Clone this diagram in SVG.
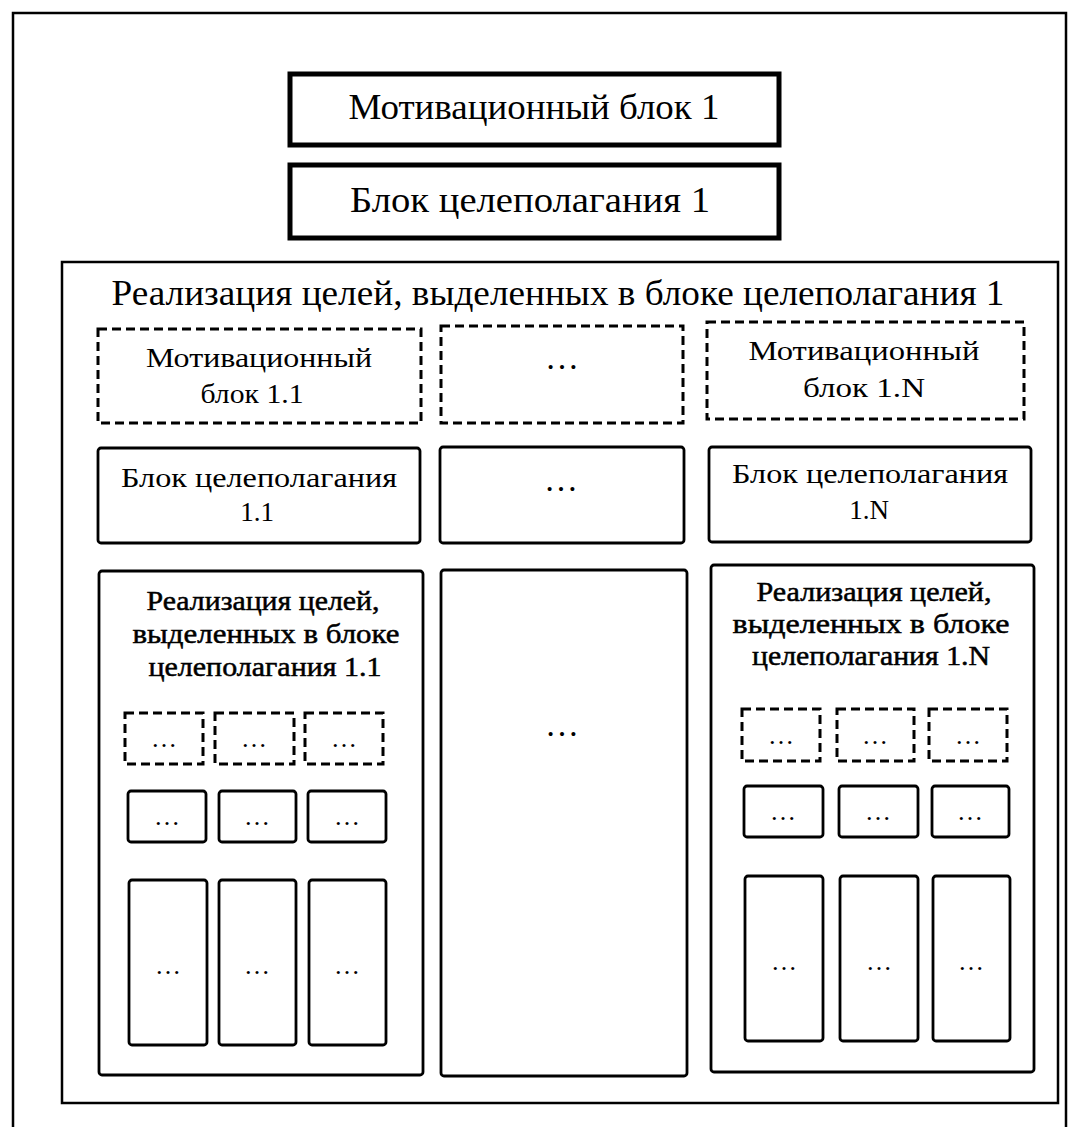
<svg xmlns="http://www.w3.org/2000/svg" width="1071" height="1127" viewBox="0 0 1071 1127">
<style>
  .bg{fill:#fff}
  .thick{fill:#fff;stroke:#000;stroke-width:5}
  .frame{fill:none;stroke:#000;stroke-width:2.5}
  .solid{fill:#fff;stroke:#000;stroke-width:2.8}
  .dash{fill:#fff;stroke:#000;stroke-width:3;stroke-dasharray:9 5}
  .t36{font-family:"Liberation Serif","Times New Roman",serif;font-size:36px;fill:#000;text-anchor:middle}
  .t27{font-family:"Liberation Serif","Times New Roman",serif;font-size:27px;fill:#000;text-anchor:middle}
  .heavy{stroke:#000;stroke-width:0.5}
  .dots{font-family:"Liberation Serif","Times New Roman",serif;font-size:34px;fill:#000;text-anchor:middle}
  .sdots{font-family:"Liberation Serif","Times New Roman",serif;font-size:26px;fill:#000;text-anchor:middle}
</style>
<rect class="bg" x="0" y="0" width="1071" height="1127"/>
<g id="outer-frame"><rect class="frame" x="13" y="13" width="1053" height="1135"/></g>

<g id="motiv-1">
  <rect class="thick" x="290" y="74" width="489" height="71"/>
  <text class="t36" x="534" y="119" textLength="371" lengthAdjust="spacingAndGlyphs">Мотивационный блок 1</text>
</g>
<g id="goal-1">
  <rect class="thick" x="290" y="165" width="489" height="73"/>
  <text class="t36" x="530" y="212" textLength="360" lengthAdjust="spacingAndGlyphs">Блок целеполагания 1</text>
</g>

<g id="impl-1">
  <rect class="frame" x="62" y="262" width="996" height="841"/>
  <text class="t36" x="558" y="305" textLength="893" lengthAdjust="spacingAndGlyphs">Реализация целей, выделенных в блоке целеполагания 1</text>
</g>

<g id="motiv-1-1">
  <rect class="dash" x="98" y="329" width="323" height="94"/>
  <text class="t27" x="259" y="367" textLength="226" lengthAdjust="spacingAndGlyphs">Мотивационный</text>
  <text class="t27" x="252" y="403" textLength="103" lengthAdjust="spacingAndGlyphs">блок 1.1</text>
</g>
<g id="motiv-dots">
  <rect class="dash" x="441" y="326" width="242" height="97"/>
  <text class="dots" x="562" y="369">…</text>
</g>
<g id="motiv-1-N">
  <rect class="dash" x="707" y="322" width="317" height="97"/>
  <text class="t27" x="864" y="360" textLength="231" lengthAdjust="spacingAndGlyphs">Мотивационный</text>
  <text class="t27" x="864" y="397" textLength="122" lengthAdjust="spacingAndGlyphs">блок 1.N</text>
</g>

<g id="goal-1-1">
  <rect class="solid" x="98" y="448" width="322" height="95" rx="3"/>
  <text class="t27" x="259" y="487" textLength="276" lengthAdjust="spacingAndGlyphs">Блок целеполагания</text>
  <text class="t27" x="257" y="521">1.1</text>
</g>
<g id="goal-dots">
  <rect class="solid" x="440" y="447" width="244" height="96" rx="3"/>
  <text class="dots" x="561" y="491">…</text>
</g>
<g id="goal-1-N">
  <rect class="solid" x="709" y="447" width="322" height="95" rx="3"/>
  <text class="t27" x="870" y="483" textLength="276" lengthAdjust="spacingAndGlyphs">Блок целеполагания</text>
  <text class="t27" x="869" y="519">1.N</text>
</g>

<g id="impl-1-1">
  <rect class="solid" x="99" y="571" width="324" height="504" rx="3"/>
  <text class="t27 heavy" x="263" y="610" textLength="233" lengthAdjust="spacingAndGlyphs">Реализация целей,</text>
  <text class="t27 heavy" x="266" y="643" textLength="267" lengthAdjust="spacingAndGlyphs">выделенных в блоке</text>
  <text class="t27 heavy" x="265" y="676" textLength="233" lengthAdjust="spacingAndGlyphs">целеполагания 1.1</text>
</g>
<g id="impl-dots">
  <rect class="solid" x="441" y="570" width="246" height="506" rx="3"/>
  <text class="dots" x="562" y="736">…</text>
</g>
<g id="impl-1-N">
  <rect class="solid" x="711" y="565" width="323" height="507" rx="3"/>
  <text class="t27 heavy" x="874" y="601" textLength="235" lengthAdjust="spacingAndGlyphs">Реализация целей,</text>
  <text class="t27 heavy" x="871" y="633" textLength="277" lengthAdjust="spacingAndGlyphs">выделенных в блоке</text>
  <text class="t27 heavy" x="871" y="665" textLength="238" lengthAdjust="spacingAndGlyphs">целеполагания 1.N</text>
</g>

<g id="sub-1-1-motiv-a"><rect class="dash" x="125" y="713" width="78" height="51"/><text class="sdots" x="164" y="747">…</text></g>
<g id="sub-1-1-motiv-b"><rect class="dash" x="215" y="713" width="79" height="51"/><text class="sdots" x="254" y="747">…</text></g>
<g id="sub-1-1-motiv-c"><rect class="dash" x="305" y="713" width="78" height="51"/><text class="sdots" x="344" y="747">…</text></g>

<g id="sub-1-1-goal-a"><rect class="solid" x="128" y="791" width="78" height="51" rx="3"/><text class="sdots" x="167" y="825">…</text></g>
<g id="sub-1-1-goal-b"><rect class="solid" x="219" y="791" width="77" height="51" rx="3"/><text class="sdots" x="257" y="825">…</text></g>
<g id="sub-1-1-goal-c"><rect class="solid" x="308" y="791" width="78" height="51" rx="3"/><text class="sdots" x="347" y="825">…</text></g>

<g id="sub-1-1-impl-a"><rect class="solid" x="129" y="880" width="78" height="165" rx="3"/><text class="sdots" x="168" y="974">…</text></g>
<g id="sub-1-1-impl-b"><rect class="solid" x="219" y="880" width="77" height="165" rx="3"/><text class="sdots" x="257" y="974">…</text></g>
<g id="sub-1-1-impl-c"><rect class="solid" x="309" y="880" width="77" height="165" rx="3"/><text class="sdots" x="347" y="974">…</text></g>

<g id="sub-1-N-motiv-a"><rect class="dash" x="742" y="709" width="78" height="52"/><text class="sdots" x="781" y="744">…</text></g>
<g id="sub-1-N-motiv-b"><rect class="dash" x="837" y="709" width="77" height="52"/><text class="sdots" x="875" y="744">…</text></g>
<g id="sub-1-N-motiv-c"><rect class="dash" x="929" y="709" width="78" height="52"/><text class="sdots" x="968" y="744">…</text></g>

<g id="sub-1-N-goal-a"><rect class="solid" x="744" y="786" width="79" height="51" rx="3"/><text class="sdots" x="783" y="820">…</text></g>
<g id="sub-1-N-goal-b"><rect class="solid" x="839" y="786" width="79" height="51" rx="3"/><text class="sdots" x="878" y="820">…</text></g>
<g id="sub-1-N-goal-c"><rect class="solid" x="932" y="786" width="77" height="51" rx="3"/><text class="sdots" x="970" y="820">…</text></g>

<g id="sub-1-N-impl-a"><rect class="solid" x="745" y="876" width="78" height="165" rx="3"/><text class="sdots" x="784" y="970">…</text></g>
<g id="sub-1-N-impl-b"><rect class="solid" x="840" y="876" width="78" height="165" rx="3"/><text class="sdots" x="879" y="970">…</text></g>
<g id="sub-1-N-impl-c"><rect class="solid" x="933" y="876" width="77" height="165" rx="3"/><text class="sdots" x="971" y="970">…</text></g>

<g id="connectors"/>
</svg>
